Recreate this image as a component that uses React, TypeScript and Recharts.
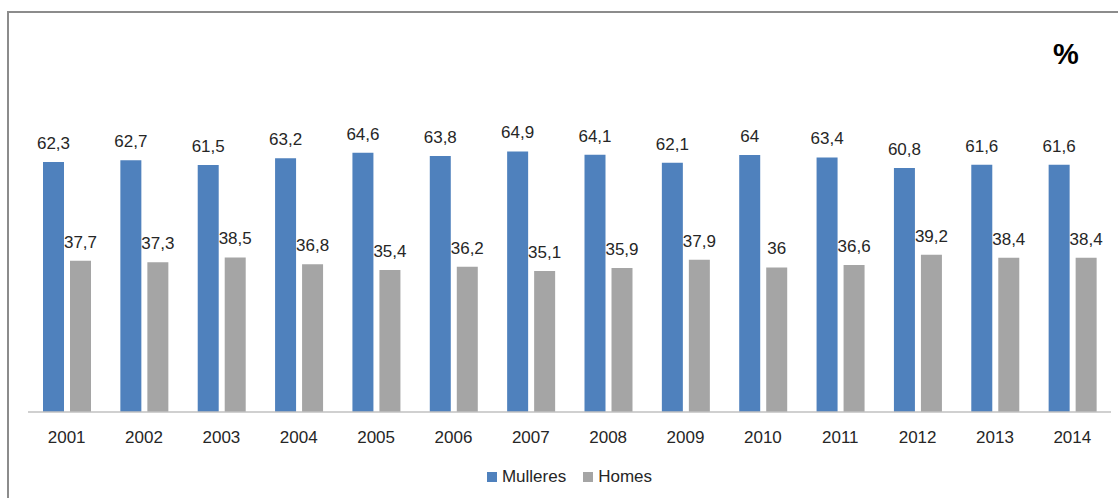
import React from 'react';
import { BarChart, Bar, XAxis, YAxis, LabelList, Legend } from 'recharts';

const years = ['2001', '2002', '2003', '2004', '2005', '2006', '2007', '2008', '2009', '2010', '2011', '2012', '2013', '2014'];
const mulleres = [62.3, 62.7, 61.5, 63.2, 64.6, 63.8, 64.9, 64.1, 62.1, 64, 63.4, 60.8, 61.6, 61.6];
const homes = [37.7, 37.3, 38.5, 36.8, 35.4, 36.2, 35.1, 35.9, 37.9, 36, 36.6, 39.2, 38.4, 38.4];
const seriesOrder = ['Mulleres', 'Homes'];

const data = years.map((y, i) => ({ year: y, Mulleres: mulleres[i], Homes: homes[i] }));

const FONT = '"Liberation Sans", Arial, sans-serif';
const BLUE = '#4f81bd';
const GRAY = '#a5a5a5';

const fmt = (v: any) => String(v).replace('.', ',');

const LegendContent = (props: any) => {
  const items = [...(props.payload || [])].sort(
    (a: any, b: any) => seriesOrder.indexOf(a.value) - seriesOrder.indexOf(b.value)
  );
  return (
    <div style={{ display: 'flex', justifyContent: 'center', alignItems: 'center', height: 24, fontFamily: FONT, fontSize: 17, color: '#262626' }}>
      {items.map((it: any, i: number) => (
        <div key={i} style={{ display: 'flex', alignItems: 'center', marginLeft: i === 0 ? 0 : 17 }}>
          <div style={{ width: 10, height: 10, background: it.color, marginRight: 5 }} />
          <span>{it.value}</span>
        </div>
      ))}
    </div>
  );
};

export default function App() {
  return (
    <div style={{ position: 'absolute', left: 0, top: 0, width: 1118, height: 498, background: '#fff', overflow: 'hidden' }}>
      <div style={{ position: 'absolute', left: 7, top: 11, width: 1200, height: 600, borderLeft: '2px solid #8c8c8c', borderTop: '2px solid #8c8c8c' }} />
      <div style={{ position: 'absolute', left: 1053, top: 38, fontFamily: FONT, fontWeight: 'bold', fontSize: 29, color: '#000' }}>%</div>
      <div style={{ position: 'absolute', left: 0, top: 0 }}>
        <BarChart width={1118} height={498} data={data} margin={{ top: 131, right: 7, left: 28, bottom: 9 }} barSize={21} barGap={6}>
          <XAxis dataKey="year" height={53} tickLine={false} tickSize={6} tickMargin={13} axisLine={{ stroke: '#c0c0c0', strokeWidth: 1.5 }} tick={{ fill: '#262626', fontSize: 17, fontFamily: FONT }} interval={0} />
          <YAxis hide domain={[0, 70]} />
          <Legend verticalAlign="bottom" content={<LegendContent />} />
          <Bar dataKey="Mulleres" fill={BLUE} isAnimationActive={false}>
            <LabelList dataKey="Mulleres" position="top" offset={13} formatter={fmt} style={{ fill: '#262626', fontSize: 17, fontFamily: FONT }} />
          </Bar>
          <Bar dataKey="Homes" fill={GRAY} isAnimationActive={false}>
            <LabelList dataKey="Homes" position="top" offset={13} formatter={fmt} style={{ fill: '#262626', fontSize: 17, fontFamily: FONT }} />
          </Bar>
        </BarChart>
      </div>
    </div>
  );
}
